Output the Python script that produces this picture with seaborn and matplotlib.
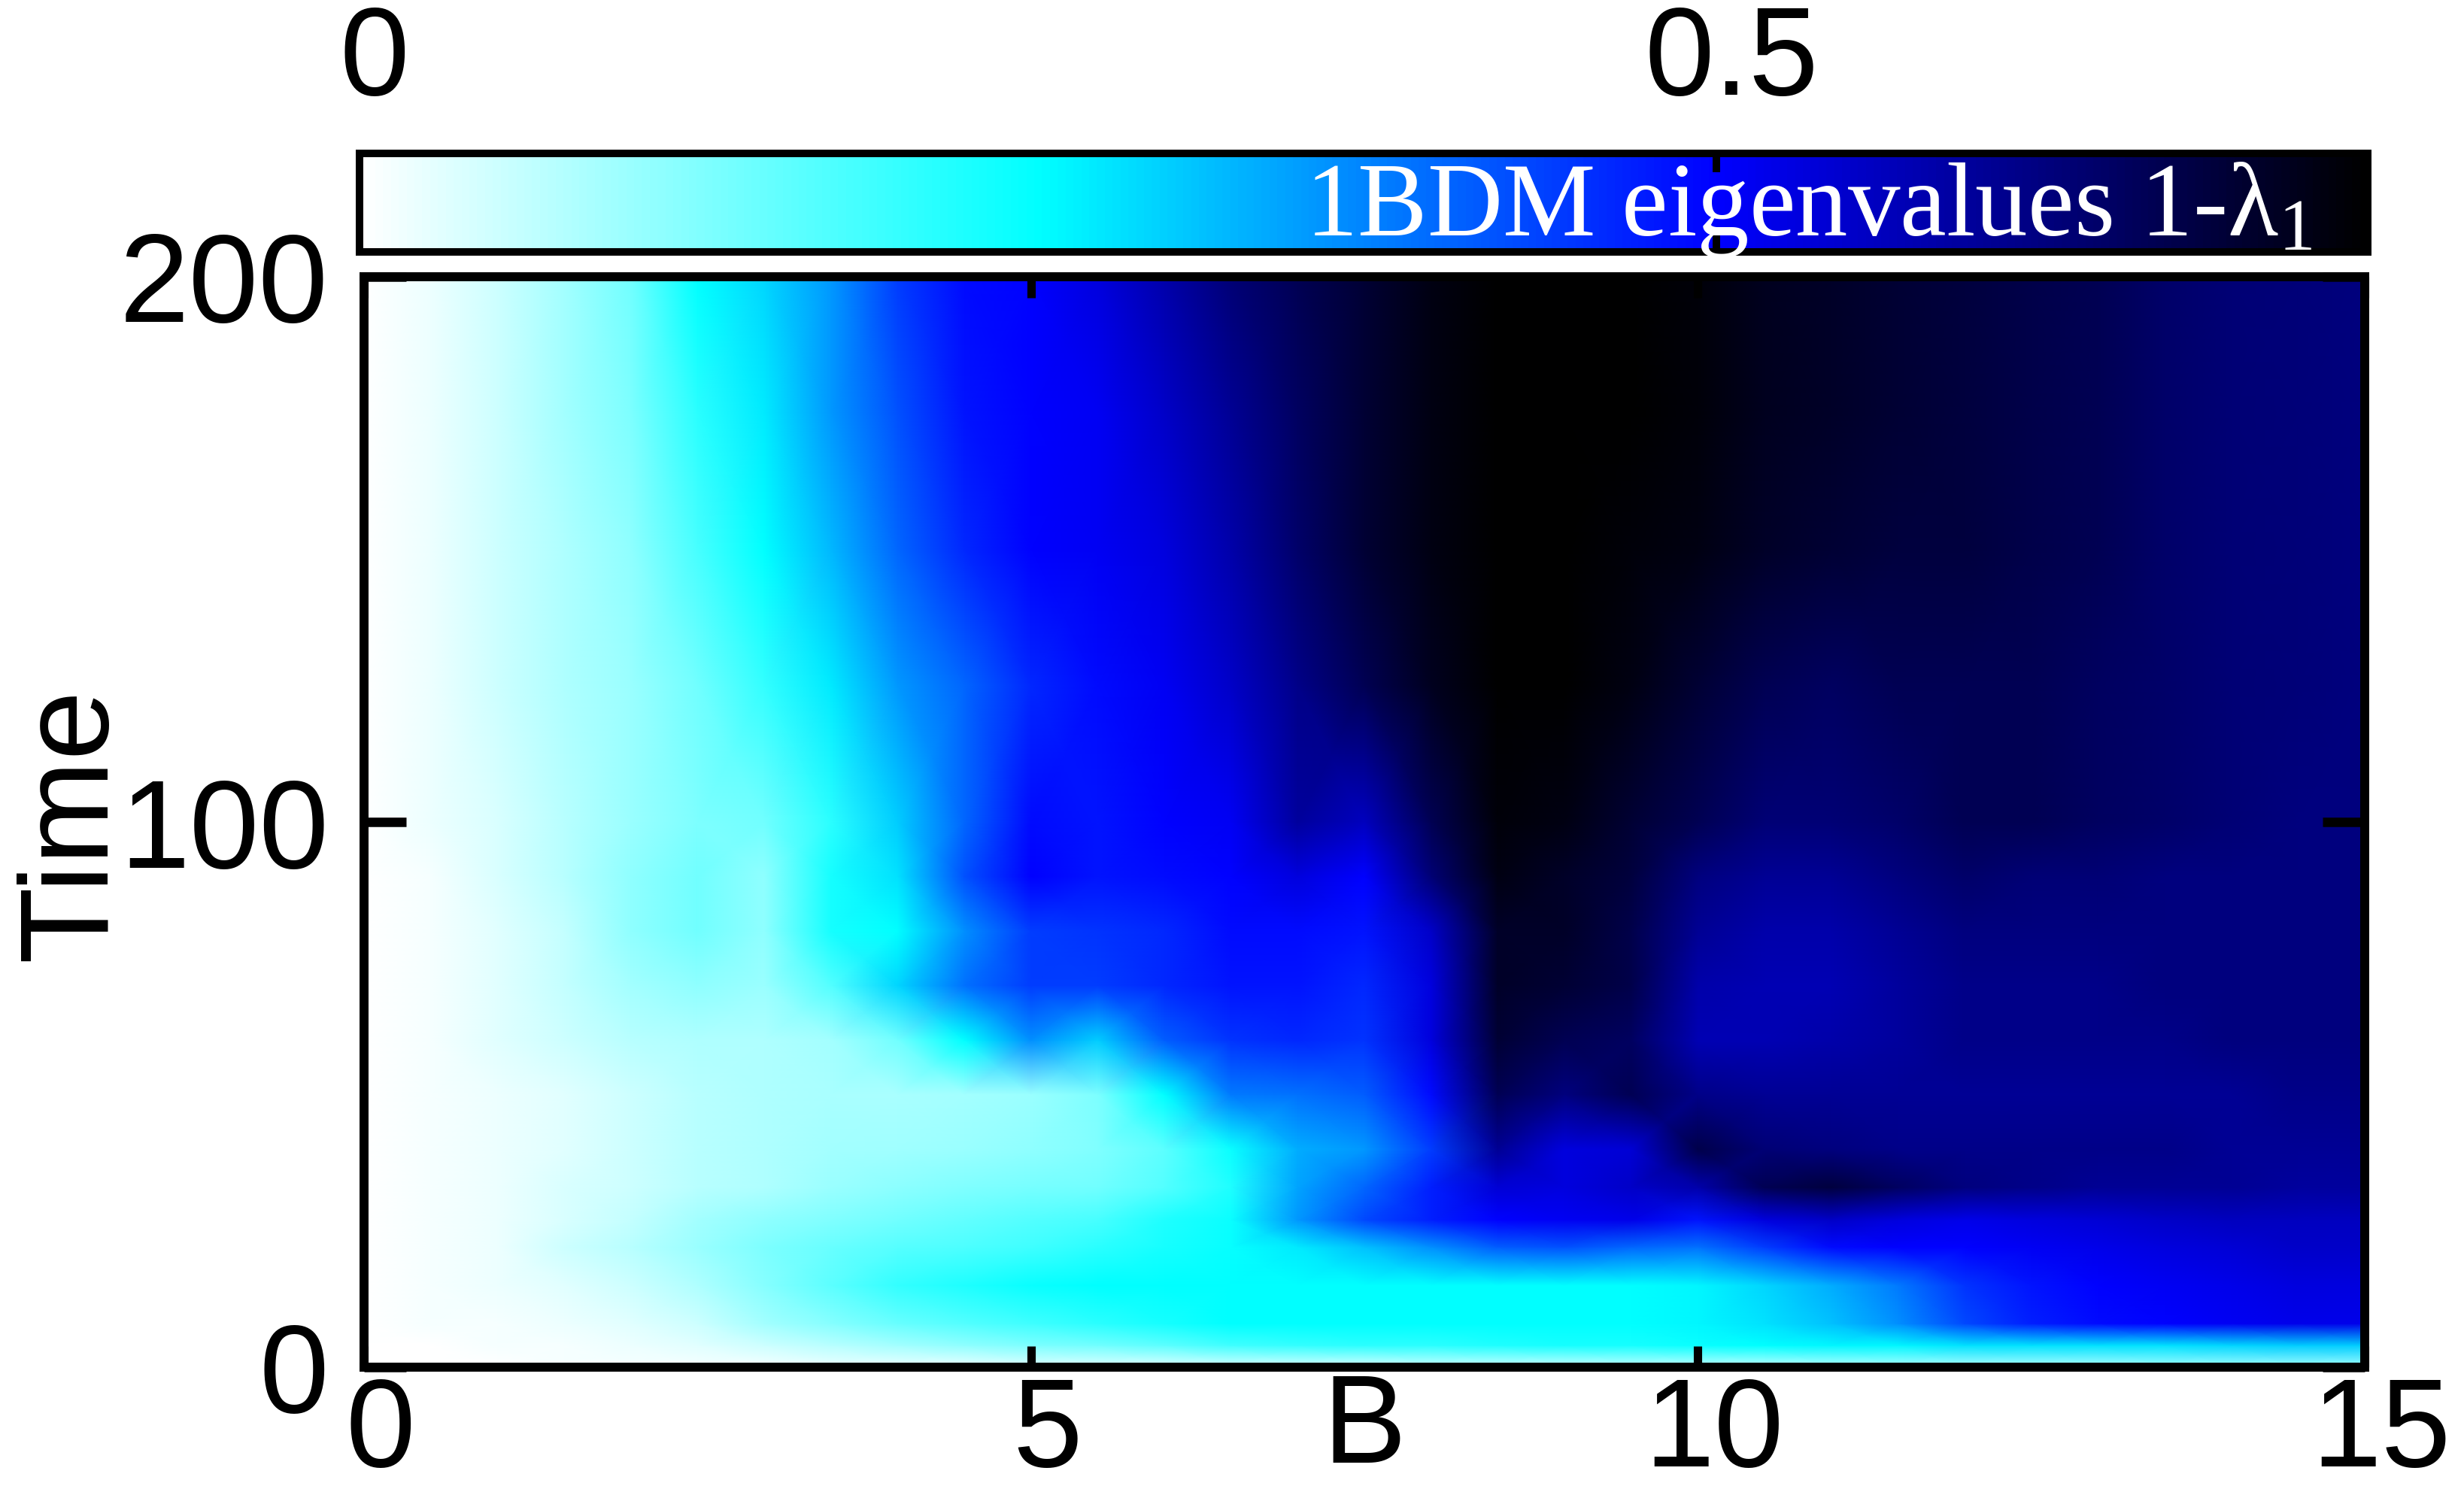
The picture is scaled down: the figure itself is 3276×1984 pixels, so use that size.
import numpy as np
import pandas as pd
import matplotlib
matplotlib.use("Agg")
import matplotlib.pyplot as plt
import seaborn as sns
from matplotlib.colors import LinearSegmentedColormap
from matplotlib.transforms import ScaledTranslation

# B axis nodes, one value per column of the rows below
B_VALUES = [0, 0.5, 1, 1.5, 2, 2.5, 3, 3.5, 4, 4.5, 5, 5.5, 6, 6.5, 7, 7.5,
            8, 8.5, 9, 9.5, 10, 10.5, 11, 11.5, 12, 12.5, 13, 13.5, 14, 14.5, 15]
TIME_VALUES = [0, 4, 8, 15, 22, 27, 33, 40, 50, 60, 70, 80, 90, 100, 125, 150, 175, 200]

# 1-lambda_1, row by row
T000 = [0,0,0,.01,.01,.01,.01,.02,.02,.02,.03,.03,.03,.04,.04,.04,.05,.05,.05,.06,.06,.06,.07,.08,.08,.08,.08,.09,.09,.09,.09]
T004 = [0,0,.01,.01,.02,.03,.05,.07,.09,.11,.13,.14,.16,.19,.20,.21,.21,.22,.23,.23,.24,.25,.26,.26,.28,.28,.28,.28,.29,.30,.30]
T008 = [0,.01,.01,.02,.03,.05,.09,.12,.15,.17,.19,.21,.23,.25,.25,.25,.25,.25,.25,.25,.26,.28,.31,.36,.43,.47,.49,.50,.51,.52,.52]
T015 = [0,.01,.02,.03,.05,.08,.12,.16,.20,.22,.24,.25,.25,.25,.25,.25,.25,.25,.25,.25,.26,.29,.33,.38,.45,.48,.50,.51,.52,.53,.53]
T022 = [0,.01,.02,.05,.07,.10,.13,.15,.165,.175,.19,.21,.23,.245,.27,.31,.36,.41,.42,.40,.39,.44,.49,.50,.50,.51,.52,.53,.54,.55,.55]
T027 = [0,.01,.02,.04,.06,.09,.11,.125,.14,.155,.17,.18,.22,.24,.35,.43,.47,.50,.51,.52,.48,.53,.55,.53,.52,.53,.54,.55,.56,.56,.56]
T033 = [0,.01,.02,.04,.05,.07,.08,.10,.115,.125,.135,.14,.17,.22,.34,.40,.47,.54,.53,.55,.58,.66,.68,.65,.62,.61,.60,.60,.60,.59,.59]
T040 = [0,.01,.02,.03,.05,.07,.08,.09,.095,.10,.11,.125,.16,.24,.33,.35,.44,.60,.53,.54,.67,.63,.62,.61,.61,.61,.61,.61,.60,.60,.60]
T050 = [0,.01,.02,.03,.05,.07,.08,.085,.085,.09,.10,.13,.25,.38,.39,.41,.49,.66,.62,.66,.61,.60,.60,.60,.60,.60,.60,.60,.60,.61,.61]
T060 = [0,.01,.03,.05,.07,.08,.08,.09,.14,.25,.36,.30,.41,.45,.46,.45,.53,.69,.66,.65,.57,.57,.58,.59,.61,.61,.61,.61,.62,.62,.62]
T070 = [0,.01,.03,.06,.09,.11,.10,.17,.29,.39,.44,.44,.46,.48,.48,.46,.53,.70,.69,.67,.58,.57,.57,.59,.61,.61,.61,.62,.62,.62,.62]
T080 = [0,.01,.03,.06,.11,.14,.11,.23,.25,.36,.44,.45,.46,.49,.49,.48,.55,.70,.70,.67,.60,.58,.58,.60,.62,.62,.62,.62,.62,.62,.62]
T090 = [0,.01,.04,.07,.11,.14,.11,.23,.28,.42,.50,.48,.49,.50,.53,.50,.63,.72,.70,.68,.62,.60,.60,.62,.64,.63,.63,.62,.62,.62,.62]
T100 = [0,.02,.04,.07,.10,.13,.14,.21,.30,.40,.49,.48,.50,.51,.59,.56,.66,.73,.72,.69,.66,.63,.63,.64,.66,.66,.65,.64,.63,.62,.62]
T125 = [0,.02,.05,.08,.10,.14,.20,.27,.35,.40,.46,.49,.51,.55,.61,.66,.71,.74,.74,.72,.69,.66,.65,.66,.66,.66,.65,.64,.63,.625,.62]
T150 = [0,.02,.05,.08,.11,.18,.25,.32,.40,.46,.50,.51,.53,.58,.64,.69,.72,.74,.74,.73,.72,.70,.69,.68,.68,.67,.66,.64,.63,.625,.62]
T175 = [0,.02,.05,.09,.13,.21,.27,.35,.42,.48,.50,.51,.55,.60,.65,.69,.72,.74,.74,.74,.73,.71,.70,.69,.68,.67,.66,.64,.63,.625,.62]
T200 = [0,.02,.05,.09,.14,.25,.29,.35,.44,.49,.50,.53,.58,.63,.66,.69,.72,.74,.74,.74,.73,.71,.70,.69,.68,.67,.66,.64,.63,.625,.62]

X_TICKS = [0, 5, 10, 15]
Y_TICKS = [0, 100, 200]
CBAR_TICKS = [0, 0.5]
VMAX = 0.74

W, H, DPI = 3276, 1984, 200


def px_w(n):
    return n / W


def px_h(n):
    return n / H


sns.set_theme(style="white")
plt.rcParams['font.family'] = ['Liberation Sans', 'DejaVu Sans']
plt.rcParams['mathtext.default'] = 'regular'

palette = LinearSegmentedColormap.from_list(
    "bdm", [(0, "white"), (0.25 / VMAX, "cyan"), (0.5 / VMAX, "blue"), (1, "black")])

table = pd.DataFrame(
    [T000, T004, T008, T015, T022, T027, T033, T040, T050, T060, T070, T080,
     T090, T100, T125, T150, T175, T200],
    index=TIME_VALUES, columns=B_VALUES)

fig = plt.figure(figsize=(W / DPI, H / DPI), dpi=DPI)
ax = fig.add_axes([px_w(484), 1 - px_h(1818), px_w(3144 - 484), px_h(1818 - 368)])
cax = fig.add_axes([px_w(478), 1 - px_h(335), px_w(3148 - 478), px_h(335 - 204)])

sns.heatmap(table, ax=ax, cmap=palette, vmin=0, vmax=VMAX, shading="gouraud",
            xticklabels=False, yticklabels=False, cbar_ax=cax,
            cbar_kws={"orientation": "horizontal"})

# time rows are not evenly spaced, map row number to time on the axis
rows = np.arange(len(TIME_VALUES))
cols = np.arange(len(B_VALUES))
ax.set_yscale("function", functions=(lambda r: np.interp(r, rows, TIME_VALUES),
                                     lambda t: np.interp(t, TIME_VALUES, rows)))
ax.set_xlim(0, len(B_VALUES) - 1)
ax.set_ylim(0, len(TIME_VALUES) - 1)
ax.set_xticks(np.interp(X_TICKS, B_VALUES, cols), labels=[str(v) for v in X_TICKS])
ax.set_yticks(np.interp(Y_TICKS, TIME_VALUES, rows), labels=[str(v) for v in Y_TICKS])
ax.minorticks_off()
ax.set_xlabel("")
ax.set_ylabel("")
ax.grid(False)
# seaborn puts the ticks under the mesh otherwise
ax.set_axisbelow(False)
cax.set_axisbelow(False)

ax.tick_params(axis="x", direction="in", length=10, width=4, color="black", top=True, bottom=True,
               labelsize=60, labelcolor="black", pad=4, labelrotation=0)
ax.tick_params(axis="y", direction="in", length=20, width=4.5, color="black", left=True, right=True,
               labelsize=60, labelcolor="black", pad=17, labelrotation=0)
for spine in ax.spines.values():
    spine.set_visible(True)
    spine.set_linewidth(4.3)
    spine.set_color("black")

shift = ScaledTranslation(22 / DPI, 0, fig.dpi_scale_trans)
for label in ax.get_xticklabels():
    label.set_transform(label.get_transform() + shift)

cbar = ax.collections[0].colorbar
cbar.set_ticks(CBAR_TICKS, labels=["0", "0.5"])
cbar.outline.set_linewidth(3.6)
cbar.outline.set_edgecolor("black")
cax.minorticks_off()
cax.tick_params(axis="x", direction="in", length=9, width=3.6, color="black", top=True, bottom=True,
                labeltop=True, labelbottom=False, labelsize=60, labelcolor="black", pad=15.5)
shift_top = ScaledTranslation(20 / DPI, 0, fig.dpi_scale_trans)
for label in cax.get_xticklabels():
    label.set_transform(label.get_transform() + shift_top)

fig.text(px_w(1814), 1 - px_h(1902), "B", fontsize=60, color="black", ha="center", va="center")
fig.text(px_w(97), 1 - px_h(1096), "Time", fontsize=60, color="black", rotation=90, ha="center", va="center")
fig.text(px_w(1735), 1 - px_h(313), "1BDM eigenvalues 1-λ$_1$", fontsize=50, color="white",
         family=["Liberation Serif", "DejaVu Serif"], ha="left", va="baseline")

fig.savefig("out.png", dpi=DPI, facecolor="white")
